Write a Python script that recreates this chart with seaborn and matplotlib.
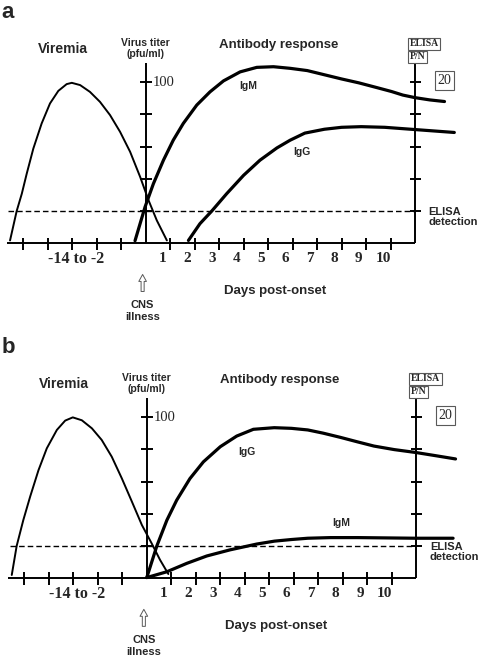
import numpy as np
import pandas as pd
import seaborn as sns
from matplotlib import pyplot as plt

# Schematic: viremia and antibody response (days vs relative level)
# x = day post-onset (0 = CNS illness), y = level in tick units (5 = 100 pfu/ml)

# Panel a
vir_a_x = [-5.53, -5.26, -5.05, -4.85, -4.58, -4.24, -3.9, -3.56, -3.22, -3.01, -2.67, -2.27,
           -1.86, -1.45, -1.04, -0.63, -0.22, 0.12, 0.46, 0.87]
vir_a_y = [0.09, 1.0, 1.54, 2.16, 2.94, 3.72, 4.34, 4.73, 4.94, 4.98, 4.91, 4.7,
           4.39, 3.98, 3.46, 2.84, 2.06, 1.34, 0.71, 0.09]
igm_a_x = [-0.43, -0.02, 0.32, 0.73, 1.13, 1.54, 2.09, 2.63, 3.18, 3.86, 4.54, 5.22, 5.9,
           6.6, 7.3, 8.0, 8.7, 9.4, 10.04, 10.5, 11.0, 11.6, 12.2]
igm_a_y = [0.08, 1.13, 1.85, 2.58, 3.2, 3.72, 4.29, 4.7, 5.04, 5.32, 5.46, 5.48, 5.43,
           5.36, 5.23, 5.1, 4.98, 4.84, 4.71, 4.6, 4.52, 4.45, 4.4]
igg_a_x = [1.75, 2.22, 2.7, 3.31, 4.0, 4.67, 5.36, 5.9, 6.5, 7.3, 8.0, 8.8, 9.76, 11.0, 12.6]
igg_a_y = [0.09, 0.61, 1.0, 1.54, 2.11, 2.58, 2.96, 3.2, 3.42, 3.54, 3.6, 3.62, 3.6, 3.53, 3.44]

# Panel b
vir_b_x = [-5.51, -5.31, -5.04, -4.76, -4.42, -4.08, -3.67, -3.33, -3.02, -2.65, -2.24, -1.84,
           -1.43, -1.02, -0.61, -0.2, 0.2, 0.54, 0.88]
vir_b_y = [0.1, 1.0, 1.8, 2.53, 3.35, 4.03, 4.6, 4.89, 4.99, 4.9, 4.65, 4.29,
           3.77, 3.1, 2.38, 1.65, 1.08, 0.57, 0.13]
igg_b_x = [0.0, 0.41, 0.82, 1.22, 1.76, 2.31, 3.0, 3.67, 4.35, 5.2, 5.9, 6.57, 7.2, 7.9,
           8.6, 9.27, 10.1, 10.98, 11.8, 12.6]
igg_b_y = [0.02, 1.0, 1.8, 2.42, 3.09, 3.61, 4.08, 4.41, 4.62, 4.67, 4.65, 4.6, 4.5, 4.37,
           4.23, 4.1, 3.99, 3.9, 3.8, 3.7]
igm_b_x = [0.0, 0.82, 1.63, 2.45, 3.4, 4.49, 5.21, 5.9, 6.57, 7.5, 8.6, 9.8, 10.98, 12.5]
igm_b_y = [0.02, 0.2, 0.46, 0.69, 0.88, 1.06, 1.15, 1.2, 1.24, 1.26, 1.26, 1.25, 1.24, 1.24]

day_ticks = [-5, -4, -3, -2, -1, 1, 2, 3, 4, 5, 6, 7, 8, 9, 10]
day_labels = ['1', '2', '3', '4', '5', '6', '7', '8', '9', '10']
level_ticks = [1, 2, 3, 4, 5]

sns.set_style('white')
plt.rcParams['font.family'] = ['Liberation Sans', 'DejaVu Sans']

fig = plt.figure(figsize=(4.82, 6.62), dpi=100)
ax_a = fig.add_axes([0, 0.5, 1, 0.5])
ax_b = fig.add_axes([0, 0, 1, 0.5])
ax_a.set_xlim(-5.94, 13.73)
ax_a.set_ylim(-2.72, 7.55)
ax_b.set_xlim(-5.99, 13.68)
ax_b.set_ylim(-2.6, 7.67)

serif = 'Liberation Serif'


def draw_frame(ax, letter):
    k = dict(color='black', lw=1.4, solid_capstyle='butt')
    ax.plot([-5.65, 11.0], [0, 0], **k)
    ax.plot([0, 0], [0, 5.6], **k)
    ax.plot([11.0, 11.0], [0, 5.6], **k)
    for d in day_ticks:
        ax.plot([d, d], [-0.22, 0.18], **k)
    for lv in level_ticks:
        ax.plot([-0.22, 0.25], [lv, lv], **k)
        ax.plot([10.78, 11.25], [lv, lv], **k)
    ax.plot([-5.6, 11.0], [1, 1], color='black', lw=1.0, linestyle=(0, (4, 2.2)))

    # tick labels
    ax.text(-2.85, -0.48, '-14 to -2', family=serif, weight='bold', fontsize=11.5,
            ha='center', va='center')
    for i, lab in enumerate(day_labels):
        ax.text(i + 1 - 0.3, -0.48, lab, family=serif, weight='bold', fontsize=11,
                ha='center', va='center')
    ax.text(0.28, 4.98, '100', family=serif, fontsize=10.5, ha='left', va='center')

    # headings
    ax.text(-3.39, 6.04, 'Viremia', weight='bold', fontsize=10, ha='center', va='center')
    ax.text(0, 6.05, 'Virus titer\n(pfu/ml)', weight='bold', fontsize=7.5, ha='center',
            va='center', linespacing=1.1)
    ax.text(5.44, 6.16, 'Antibody response', weight='bold', fontsize=9.5, ha='center',
            va='center')
    ax.text(5.27, -1.49, 'Days post-onset', weight='bold', fontsize=9.5, ha='center',
            va='center')
    ax.text(11.55, 0.82, 'ELISA\ndetection', weight='bold', fontsize=8, ha='left',
            va='center', linespacing=1.05)
    ax.text(-0.12, -2.1, 'CNS\nillness', weight='bold', fontsize=8, ha='center',
            va='center', linespacing=1.2)
    ax.annotate('', xy=(-0.12, -0.88), xytext=(-0.12, -1.58),
                arrowprops=dict(arrowstyle='simple,head_length=0.5,head_width=0.55,tail_width=0.22',
                                fc='white', ec='0.35', lw=0.7))

    # boxed labels
    box = dict(boxstyle='square,pad=0.15', fc='white', ec='0.35', lw=0.8)
    ax.text(10.78, 6.19, 'ELISA', family=serif, weight='bold', fontsize=7, ha='left',
            va='center', bbox=box)
    ax.text(10.78, 5.79, 'P/N', family=serif, weight='bold', fontsize=7, ha='left',
            va='center', bbox=box)
    ax.text(12.2, 5.05, '20', family=serif, fontsize=10, ha='center', va='center',
            bbox=dict(boxstyle='square,pad=0.2', fc='white', ec='0.35', lw=0.8))

    ax.text(-5.65, 7.15, letter, weight='bold', fontsize=16, ha='center', va='center')
    ax.axis('off')


def curve(ax, xs, ys, lw):
    df = pd.DataFrame({'day': xs, 'level': ys})
    sns.lineplot(data=df, x='day', y='level', ax=ax, color='black', lw=lw,
                 sort=False, estimator=None, solid_joinstyle='round')


# panel a
curve(ax_a, vir_a_x, vir_a_y, 1.4)
curve(ax_a, igm_a_x, igm_a_y, 2.3)
curve(ax_a, igg_a_x, igg_a_y, 2.3)
ax_a.text(4.19, 4.87, 'IgM', weight='bold', fontsize=7.5, ha='center', va='center')
ax_a.text(6.39, 2.84, 'IgG', weight='bold', fontsize=7.5, ha='center', va='center')
draw_frame(ax_a, 'a')

# panel b
curve(ax_b, vir_b_x, vir_b_y, 1.4)
curve(ax_b, igg_b_x, igg_b_y, 2.3)
curve(ax_b, igm_b_x, igm_b_y, 2.3)
ax_b.text(4.09, 3.93, 'IgG', weight='bold', fontsize=7.5, ha='center', va='center')
ax_b.text(7.93, 1.70, 'IgM', weight='bold', fontsize=7.5, ha='center', va='center')
draw_frame(ax_b, 'b')

for ax in (ax_a, ax_b):
    ax.set_xlabel('')
    ax.set_ylabel('')

fig.savefig('out.png', dpi=100, facecolor='white')
